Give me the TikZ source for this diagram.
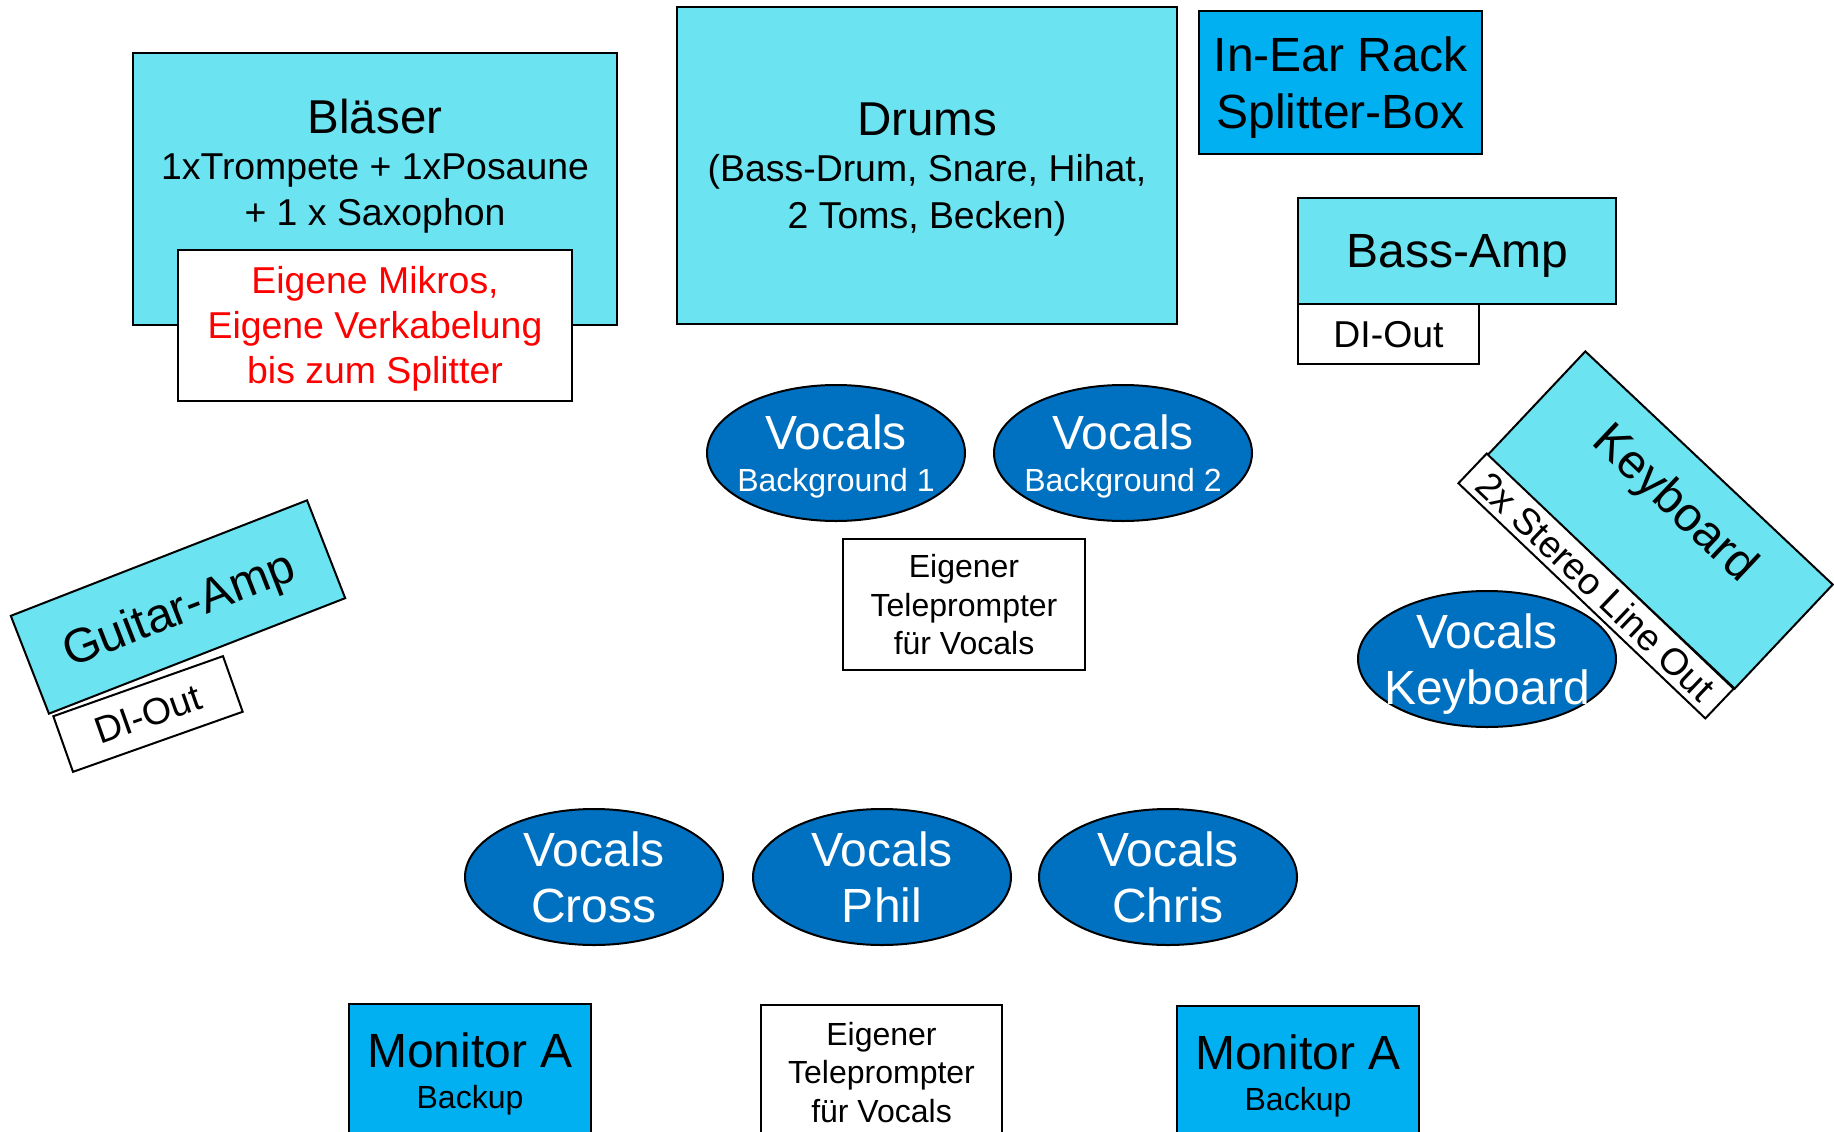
\documentclass[tikz,border=0pt]{standalone}
\usepackage{fontspec}
\setmainfont{Liberation Sans}
\usepackage{tikz}
\usetikzlibrary{shapes.geometric}
\definecolor{ampcyan}{RGB}{107, 227, 240}
\definecolor{rackblue}{RGB}{0, 176, 240}
\definecolor{vocalblue}{RGB}{0, 112, 192}
\newcommand{\bigtxt}{\fontsize{48}{56.5}\selectfont}
\newcommand{\midtxt}{\fontsize{37.4}{45}\selectfont}
\newcommand{\smalltxt}{\fontsize{32}{38.5}\selectfont}
\tikzset{
	stagebox/.style={draw, line width=2pt, rectangle, inner sep=0pt, align=center, text depth=0pt},
	ampbox/.style={stagebox, fill=ampcyan},
	rackbox/.style={stagebox, fill=rackblue},
	notebox/.style={stagebox, fill=white},
	vocals/.style={draw, line width=2pt, ellipse, fill=vocalblue, minimum width=258pt, minimum height=136pt, inner sep=0pt},
	vocalstxt/.style={text=white, align=center, inner sep=0pt, text depth=0pt}
}
\newcommand{\vocalsellipse}[4][\bigtxt]{% [font]{name}{position}{text}
	\node[vocals] (#2) at (#3) {}; % ellipse
	\node[vocalstxt, font=#1] (#2-txt) at (#2.center) {#4}; % label
}

\begin{document}
\begin{tikzpicture}[x=1pt, y=-1pt]
			\path[use as bounding box, fill=white] (0,0) rectangle (1834,1132);
			\clip (0,0) rectangle (1834,1132);

			% back line
			\node[ampbox, minimum width=484pt, minimum height=272pt] (blaeser) at (375,189) {};
			\node[align=center, inner sep=0pt, text depth=0pt, font=\fontsize{47.5}{46}\selectfont] (blaeser-txt) at (375,162)
				{Bläser\\\midtxt 1xTrompete + 1xPosaune\\\midtxt + 1 x Saxophon};
			\node[notebox, text=red, font=\midtxt, minimum width=394pt, minimum height=151pt] (mikros) at (375,325)
				{Eigene Mikros,\\Eigene Verkabelung\\bis zum Splitter};
			\node[ampbox, font=\fontsize{47.5}{46.5}\selectfont, minimum width=500pt, minimum height=317pt] (drums) at (927,165.5)
				{Drums\\\midtxt (Bass-Drum, Snare, Hihat,\\\midtxt 2 Toms, Becken)};
			\node[rackbox, font=\bigtxt, minimum width=283pt, minimum height=143pt] (inear) at (1340.5,82.5) {In-Ear Rack\\Splitter-Box};
			\node[ampbox, font=\bigtxt, minimum width=318pt, minimum height=106pt] (bassamp) at (1457,251) {Bass-Amp};
			\node[notebox, font=\midtxt, minimum width=181pt, minimum height=60pt] (bassdi) at (1388.5,334) {DI-Out};

			% sides
			\node[ampbox, font=\bigtxt, rotate=21.3, minimum width=318pt, minimum height=105pt] (guitar) at (178,607) {Guitar-Amp};
			\node[notebox, font=\midtxt, rotate=19.5, minimum width=180pt, minimum height=59pt] (guitardi) at (148,714) {DI-Out};
			\node[ampbox, rotate=-43.3, minimum width=340pt, minimum height=143pt] (keyboard) at (1660,520) {};
			\node[rotate=-43.3, font=\bigtxt, inner sep=0pt, text depth=0pt] (keyboard-txt) at (1677,501) {Keyboard};
			\node[notebox, font=\midtxt, rotate=-43.6, minimum width=341pt, minimum height=41pt] (stereo) at (1596,586) {2x Stereo Line Out};

			% vocals
			\vocalsellipse[\fontsize{48}{42}\selectfont]{vbg1}{836,453}{Vocals\\\smalltxt Background 1}
			\vocalsellipse[\fontsize{48}{42}\selectfont]{vbg2}{1123,453}{Vocals\\\smalltxt Background 2}
			\vocalsellipse{vkey}{1487,659}{Vocals\\Keyboard}
			\vocalsellipse{vcross}{594,877}{Vocals\\Cross}
			\vocalsellipse{vphil}{882,877}{Vocals\\Phil}
			\vocalsellipse{vchris}{1168,877}{Vocals\\Chris}
			\node[notebox, font=\smalltxt, minimum width=242pt, minimum height=131pt] (telemid) at (964,604.5) {Eigener\\Teleprompter\\für Vocals};

			% front line
			\node[rackbox, font=\fontsize{48}{41}\selectfont, minimum width=242pt, minimum height=134pt] (monleft) at (470,1071) {Monitor A\\\smalltxt Backup};
			\node[notebox, font=\smalltxt, minimum width=241pt, minimum height=134pt] (telebot) at (881.5,1072) {Eigener\\Teleprompter\\für Vocals};
			\node[rackbox, font=\fontsize{48}{41}\selectfont, minimum width=242pt, minimum height=134pt] (monright) at (1298,1073) {Monitor A\\\smalltxt Backup};
\end{tikzpicture}
\end{document}
